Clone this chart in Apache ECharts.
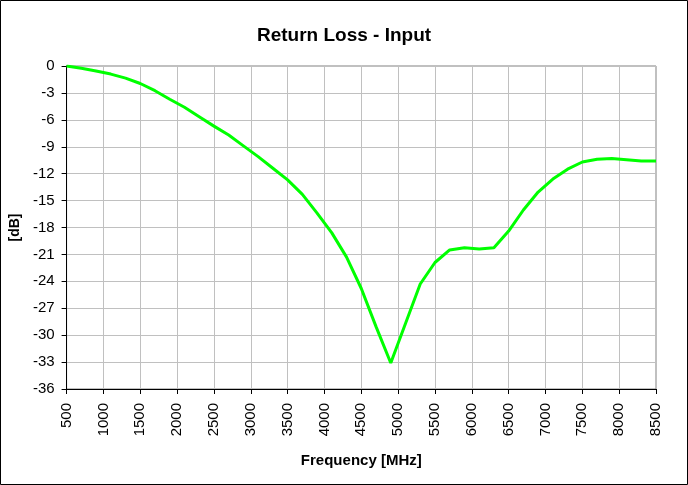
<!DOCTYPE html>
<html><head><meta charset="utf-8">
<script src="https://cdn.jsdelivr.net/npm/echarts@6/dist/echarts.min.js"></script>
<style>html,body{margin:0;padding:0;background:#fff}#c{width:688px;height:485px}</style>
</head><body><div id="c"></div>
<script>
const frequencies = [500,700,900,1100,1300,1500,1700,1900,2100,2300,2500,2700,2900,3100,3300,3500,3700,3900,4100,4300,4500,4700,4900,5100,5300,5500,5700,5900,6100,6300,6500,6700,6900,7100,7300,7500,7700,7900,8100,8300,8500];
const returnLoss = [0,-0.25,-0.55,-0.9,-1.35,-1.95,-2.75,-3.7,-4.6,-5.65,-6.7,-7.7,-8.9,-10.1,-11.4,-12.7,-14.3,-16.4,-18.6,-21.3,-24.8,-29.05,-33.1,-28.7,-24.3,-21.9,-20.5,-20.25,-20.4,-20.25,-18.4,-16.05,-14.05,-12.6,-11.5,-10.7,-10.4,-10.3,-10.45,-10.6,-10.6];
const titleText = 'Return Loss - Input';
const xName = 'Frequency [MHz]';
const yName = '[dB]';
const font = 'Liberation Sans, Arial, sans-serif';
const chart = echarts.init(document.getElementById('c'), null, {renderer:'canvas'});
chart.setOption({
  animation:false,
  backgroundColor:'#fff',
  title:{text:titleText,left:'center',top:21,textStyle:{fontFamily:font,fontSize:19,fontWeight:'bold',color:'#000'}},
  graphic:[{type:'rect',shape:{x:0.5,y:0.5,width:687,height:484},style:{fill:'none',stroke:'#000',lineWidth:1},silent:true}],
  grid:{left:66,right:32,top:66,bottom:96,show:true,borderColor:'#808080',borderWidth:1,backgroundColor:'transparent'},
  xAxis:{type:'value',min:500,max:8500,interval:500,
    name:xName,nameLocation:'middle',nameGap:64,
    nameTextStyle:{fontFamily:font,fontSize:15,fontWeight:'bold',color:'#000'},
    axisLine:{onZero:false,lineStyle:{color:'#000',width:1}},
    axisTick:{show:true,inside:false,length:5,lineStyle:{color:'#000'}},
    axisLabel:{rotate:90,fontFamily:font,fontSize:15,color:'#000',margin:14,formatter:v=>String(v)},
    splitLine:{show:true,lineStyle:{color:'#c0c0c0',width:1}}},
  yAxis:{type:'value',min:-36,max:0,interval:3,
    name:yName,nameLocation:'middle',nameGap:42,nameRotate:90,
    nameTextStyle:{fontFamily:font,fontSize:14,fontWeight:'bold',color:'#000'},
    axisLine:{show:true,lineStyle:{color:'#000',width:1}},
    axisTick:{show:true,inside:false,length:5,lineStyle:{color:'#000'}},
    axisLabel:{fontFamily:font,fontSize:15,color:'#000',margin:12},
    splitLine:{show:true,lineStyle:{color:'#c0c0c0',width:1}}},
  series:[{type:'line',data:frequencies.map((f,i)=>[f,returnLoss[i]]),showSymbol:false,
    lineStyle:{color:'#00ff00',width:3},itemStyle:{color:'#00ff00'}}]
});
</script></body></html>
